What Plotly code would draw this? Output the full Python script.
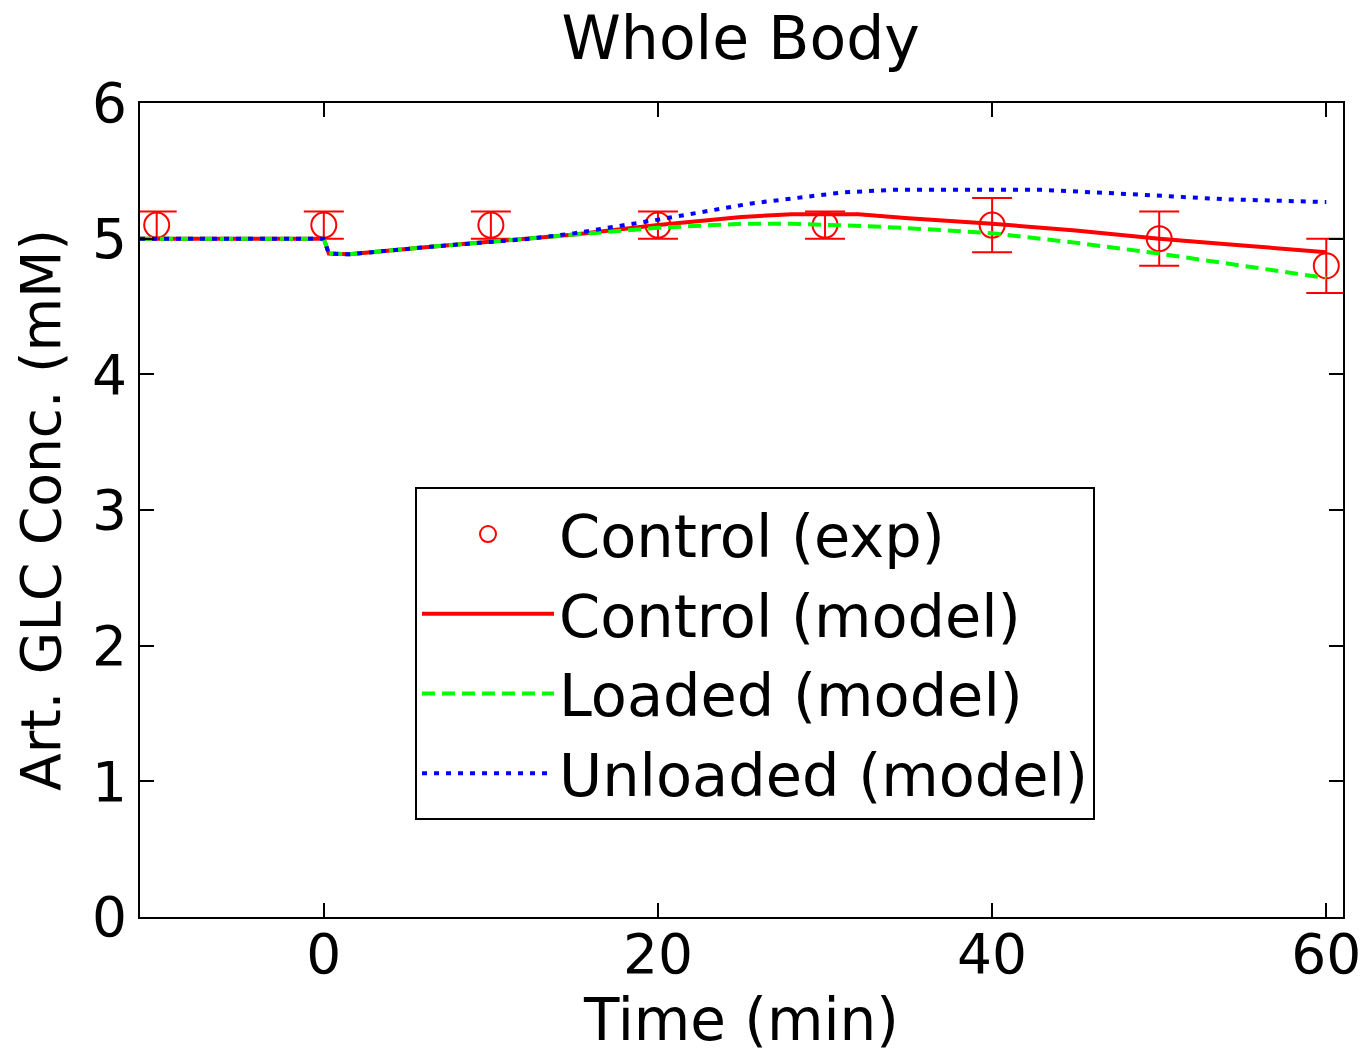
import plotly.graph_objects as go

# Experimental data (Control)
exp_t = [-10, 0, 10, 20, 30, 40, 50, 60]
exp_y = [5.1, 5.1, 5.1, 5.1, 5.1, 5.1, 5.0, 4.8]
exp_err = [0.1, 0.1, 0.1, 0.1, 0.1, 0.2, 0.2, 0.2]

# Model curves
ctrl_t = [-11, 0, 0.3, 1.5, 6.4, 10, 12.4, 15, 20, 25, 28, 32, 35, 40, 45, 50, 55, 60]
ctrl_y = [5.0, 5.0, 4.89, 4.885, 4.94, 4.98, 5.0, 5.03, 5.10, 5.16, 5.18, 5.18, 5.15, 5.11, 5.06, 5.0, 4.95, 4.90]

load_t = [-11, 0, 0.3, 1.5, 6.4, 10, 12.4, 15, 20, 25, 28, 33, 36, 40, 45, 50, 55, 60]
load_y = [5.0, 5.0, 4.89, 4.885, 4.94, 4.98, 5.0, 5.03, 5.08, 5.11, 5.11, 5.09, 5.07, 5.04, 4.97, 4.89, 4.80, 4.71]

unl_t = [-11, 0, 0.3, 1.5, 6.4, 10, 12.4, 15, 20, 25.6, 31, 34, 43, 48, 54, 60]
unl_y = [5.0, 5.0, 4.89, 4.885, 4.94, 4.98, 5.0, 5.04, 5.14, 5.26, 5.34, 5.36, 5.36, 5.33, 5.29, 5.27]

x_ticks = [0, 20, 40, 60]
y_ticks = [0, 1, 2, 3, 4, 5, 6]

FONT = "DejaVu Sans, Liberation Sans, Arial, sans-serif"

fig = go.Figure()
fig.add_trace(go.Scatter(
    x=exp_t, y=exp_y, mode="markers", name="Control (exp)",
    marker=dict(symbol="circle-open", size=25, color="#FF0000", line=dict(width=2)),
    error_y=dict(type="data", array=exp_err, color="#FF0000", thickness=2, width=20),
))
fig.add_trace(go.Scatter(
    x=ctrl_t, y=ctrl_y, mode="lines", name="Control (model)",
    line=dict(color="#FF0000", width=4),
))
fig.add_trace(go.Scatter(
    x=load_t, y=load_y, mode="lines", name="Loaded (model)",
    line=dict(color="#00FF00", width=4, dash="13px,7px"),
))
fig.add_trace(go.Scatter(
    x=unl_t, y=unl_y, mode="lines", name="Unloaded (model)",
    line=dict(color="#0000FF", width=4, dash="5px,7px"),
))

axis_common = dict(
    showline=True, linecolor="black", linewidth=2, mirror="ticks",
    ticks="inside", ticklen=14, tickwidth=2, tickcolor="black",
    showgrid=False, zeroline=False, automargin=False,
    tickfont=dict(family=FONT, size=55, color="black"),
)

fig.update_layout(
    width=1364, height=1059,
    margin=dict(l=140, r=21, t=103, b=142),
    paper_bgcolor="white", plot_bgcolor="white",
    title=dict(text="Whole Body", x=0.543, xanchor="center", y=0.964, yanchor="middle",
               font=dict(family=FONT, size=60, color="black")),
    xaxis=dict(range=[-11, 61], tickvals=x_ticks, ticklabelstandoff=-12,
               title=dict(text="Time (min)", font=dict(family=FONT, size=58, color="black"), standoff=4),
               **axis_common),
    yaxis=dict(range=[0, 6], tickvals=y_ticks,
               title=dict(text="Art. GLC Conc. (mM)", font=dict(family=FONT, size=55, color="black"), standoff=14),
               **axis_common),
    legend=dict(x=0.2286, y=0.528, xanchor="left", yanchor="top",
                bordercolor="black", borderwidth=2, bgcolor="white",
                font=dict(family=FONT, size=59, color="black"),
                itemwidth=132),
    showlegend=True,
)

fig.write_html("out.html")
